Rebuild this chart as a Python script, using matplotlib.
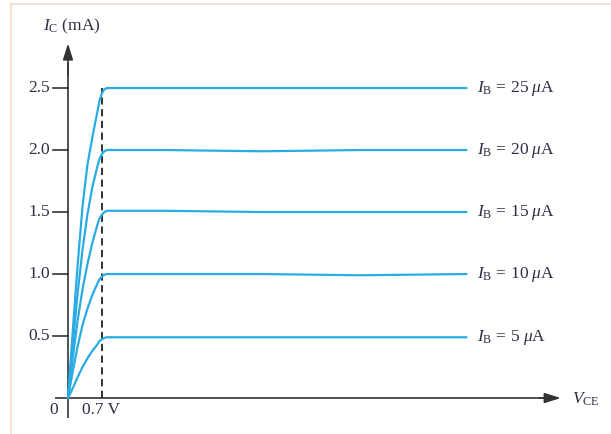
import matplotlib
matplotlib.use('Agg')
import matplotlib.pyplot as plt
from matplotlib.lines import Line2D

plt.rcParams['font.family'] = 'Liberation Serif'
plt.rcParams['mathtext.fontset'] = 'custom'
plt.rcParams['mathtext.rm'] = 'Liberation Serif'
plt.rcParams['mathtext.it'] = 'Liberation Serif:italic'

# Collector characteristics (V_CE in V, I_C in mA)
vce = [0, 0.1, 0.2, 0.3, 0.4, 0.5, 0.6, 0.65, 0.7, 0.75, 0.8, 0.9, 1.0,
       2.0, 4.0, 6.0, 8.2]
ic_25 = [0, 0.55, 1.08, 1.55, 1.88, 2.1, 2.3, 2.4, 2.46, 2.49, 2.5, 2.5, 2.5,
         2.5, 2.5, 2.5, 2.5]
ic_20 = [0, 0.44, 0.85, 1.2, 1.48, 1.7, 1.86, 1.93, 1.97, 1.99, 2.0, 2.0, 2.0,
         2.0, 1.99, 2.0, 2.0]
ic_15 = [0, 0.33, 0.63, 0.88, 1.08, 1.25, 1.39, 1.45, 1.48, 1.5, 1.51, 1.51, 1.51,
         1.51, 1.5, 1.5, 1.5]
ic_10 = [0, 0.22, 0.42, 0.59, 0.72, 0.83, 0.92, 0.96, 0.98, 0.995, 1.0, 1.0, 1.0,
         1.0, 1.0, 0.99, 1.0]
ic_5 = [0, 0.08, 0.17, 0.25, 0.32, 0.38, 0.43, 0.46, 0.475, 0.485, 0.49, 0.49, 0.49,
        0.49, 0.49, 0.49, 0.49]
curves = [ic_25, ic_20, ic_15, ic_10, ic_5]
ib_labels = ['25', '20', '15', '10', '5']

yticks = [0.5, 1.0, 1.5, 2.0, 2.5]
ytick_labels = ['0.5', '1.0', '1.5', '2.0', '2.5']
v_knee = 0.7

blue = '#2aabe4'
dark = '#333333'
text_c = '#2e2e44'
fs = 12.5

fig = plt.figure(figsize=(6.11, 4.34), dpi=100)
ax = fig.add_axes([0, 0, 1, 1])
ax.axis('off')
ax.set_xlim(-1.399, 11.173)
ax.set_ylim(-0.290, 3.210)

arrow = dict(arrowstyle='-|>,head_width=0.22,head_length=0.7', color=dark,
             lw=1.2, mutation_scale=14, shrinkA=0, shrinkB=0)

# Axes with arrows
ax.plot([0, 0], [-0.16, 2.7], color=dark, lw=1.2, solid_capstyle='butt')
ax.annotate('', xy=(0, 2.86), xytext=(0, 2.6), arrowprops=arrow)
ax.plot([-0.27, 9.8], [0, 0], color=dark, lw=1.2, solid_capstyle='butt')
ax.annotate('', xy=(10.14, 0), xytext=(9.7, 0), arrowprops=arrow)

# Y ticks
for y, lab in zip(yticks, ytick_labels):
    ax.plot([-0.3, 0], [y, y], color=dark, lw=1.2)
    ax.text(-0.37, y, lab, ha='right', va='center', fontsize=fs, color=text_c)

# Knee marker
ax.plot([v_knee, v_knee], [0, 2.5], color='#222222', lw=1.3,
        linestyle=(0, (4, 2.5)))

# Curves and labels
for ic, lab in zip(curves, ib_labels):
    ax.plot(vce, ic, color=blue, lw=1.6, solid_capstyle='round')
    ax.text(8.42, ic[-1], r'$I_{\mathrm{B}}\,=\,%s\ \mu\mathrm{A}$' % lab,
            ha='left', va='center', fontsize=fs, color=text_c)

# Axis labels
ax.text(-0.2, -0.1, '0', ha='right', va='center', fontsize=fs, color=text_c)
ax.text(0.28, -0.1, '0.7 V', ha='left', va='center', fontsize=fs, color=text_c)
ax.text(-0.52, 3.0, r'$I_{\mathrm{C}}$ (mA)', ha='left', va='center',
        fontsize=fs, color=text_c)
ax.text(10.38, -0.01, r'$V_{\mathrm{CE}}$', ha='left', va='center',
        fontsize=fs, color=text_c)

# Faint frame at left and top
fig.add_artist(Line2D([11 / 611, 11 / 611], [0, 1 - 4 / 434],
                      color='#f8dcc6', lw=1.2, transform=fig.transFigure))
fig.add_artist(Line2D([11 / 611, 1], [1 - 4 / 434, 1 - 4 / 434],
                      color='#f8dcc6', lw=1.2, transform=fig.transFigure))

fig.savefig('out.png', dpi=100)
